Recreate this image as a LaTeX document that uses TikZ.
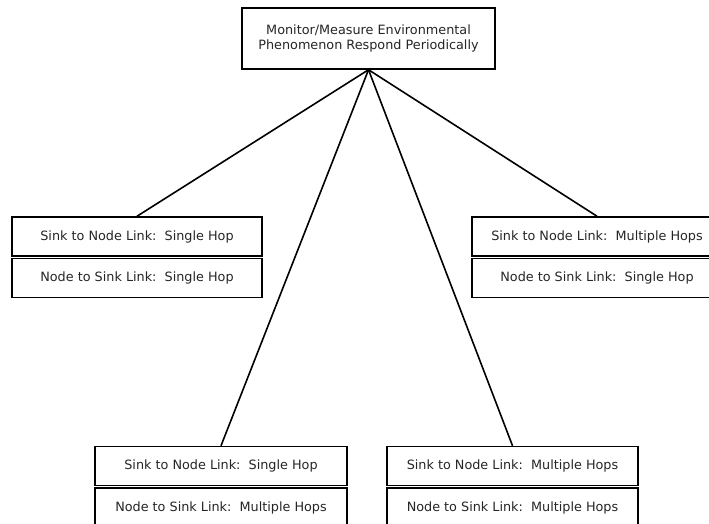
\documentclass[tikz,border=0pt]{standalone}
\usepackage{fontspec}
\setmainfont{DejaVu Sans}
\begin{document}
\begin{tikzpicture}[x=1pt,y=-1pt,
  box/.style={draw=black,line width=1.5pt,fill=white,rectangle,inner sep=0pt,
    font=\fontsize{12.8}{15}\selectfont,text=black!85,align=center},
  half/.style={box,minimum width=250pt,minimum height=39pt},
  link/.style={line width=1.6pt,black}]
\useasboundingbox (0,0) rectangle (709,524);
\clip (0,0) rectangle (709,524);
\fill[white] (0,0) rectangle (709,524);
% root task
\node[box,minimum width=253pt,minimum height=61pt] (root) at (368.5,38.5)
  {Monitor/Measure Environmental\\Phenomenon Respond Periodically};
% left pair
\node[half] (lu) at (137,236.5) {Sink to Node Link:\ \ Single Hop};
\node[half] (ll) at (137,278) {Node to Sink Link:\ \ Single Hop};
% right pair
\node[half] (ru) at (597,236.5) {Sink to Node Link:\ \ Multiple Hops};
\node[half] (rl) at (597,278) {Node to Sink Link:\ \ Single Hop};
% bottom left pair
\node[half,minimum width=252pt] (blu) at (221,466) {Sink to Node Link:\ \ Single Hop};
\node[half,minimum width=252pt] (bll) at (221,507.5) {Node to Sink Link:\ \ Multiple Hops};
% bottom right pair
\node[half,minimum width=251pt] (bru) at (512.5,466) {Sink to Node Link:\ \ Multiple Hops};
\node[half,minimum width=251pt] (brl) at (512.5,507.5) {Node to Sink Link:\ \ Multiple Hops};
% connectors
\coordinate (hub) at (root.south);
\draw[link] (hub) -- (lu.north);
\draw[link] (hub) -- (ru.north);
\draw[link] (hub) -- (blu.north);
\draw[link] (hub) -- (bru.north);
\end{tikzpicture}
\end{document}
